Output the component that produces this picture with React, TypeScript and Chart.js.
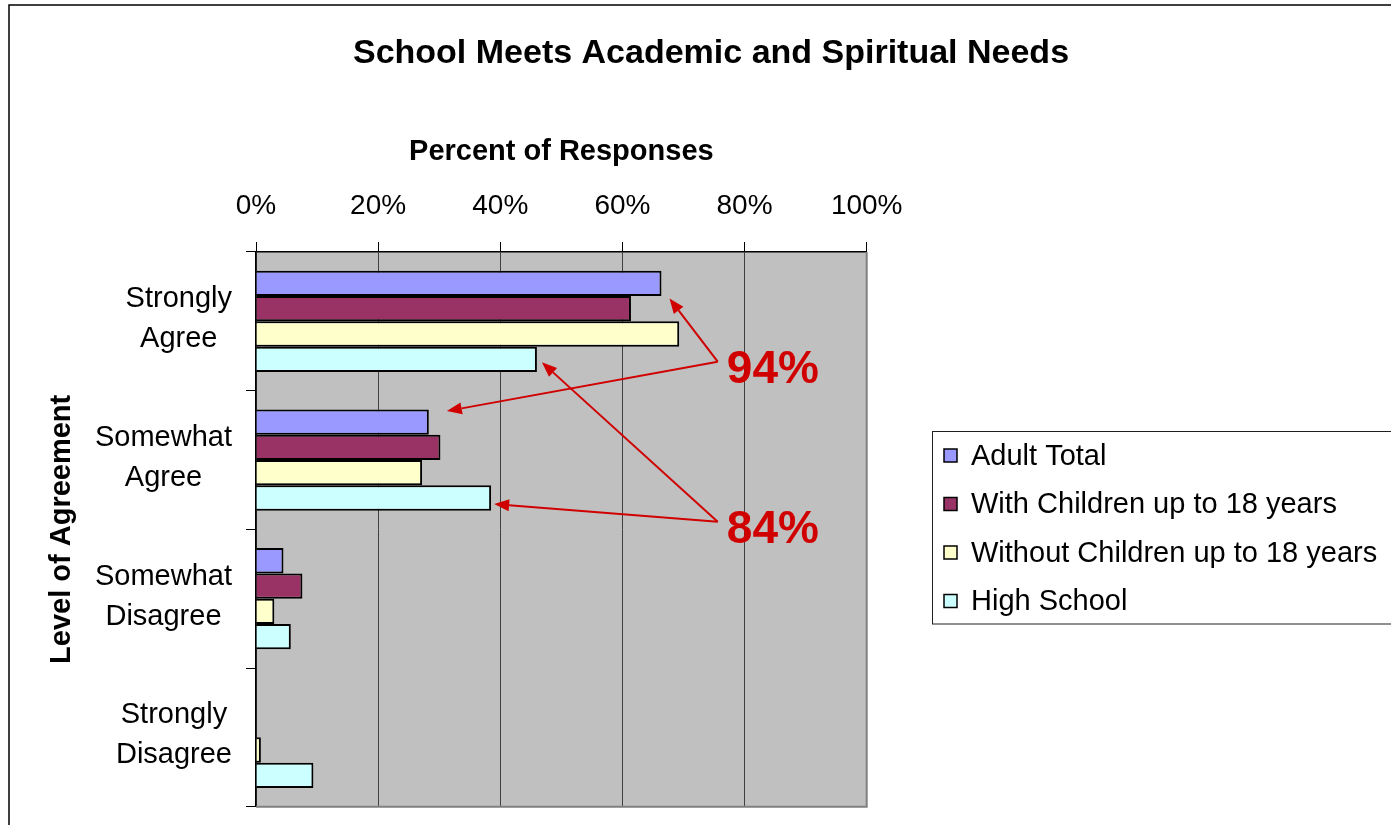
import React, { useEffect, useRef } from 'react';
import { Chart, registerables } from 'chart.js';

Chart.register(...registerables);

// ---- data ----
const CATEGORIES = ['Strongly Agree', 'Somewhat Agree', 'Somewhat Disagree', 'Strongly Disagree'];
const CATEGORY_LINES = [
  ['Strongly', 'Agree'],
  ['Somewhat', 'Agree'],
  ['Somewhat', 'Disagree'],
  ['Strongly', 'Disagree'],
];
const SERIES_NAMES = [
  'Adult Total',
  'With Children up to 18 years',
  'Without Children up to 18 years',
  'High School',
];
const ADULT_TOTAL = [66.4, 28.3, 4.5, 0];
const WITH_CHILDREN = [61.4, 30.2, 7.6, 0];
const WITHOUT_CHILDREN = [69.3, 27.2, 3.0, 0.8];
const HIGH_SCHOOL = [46.0, 38.5, 5.7, 9.4];
const X_TICKS = [0, 20, 40, 60, 80, 100];
const SERIES_COLORS = ['#9999FF', '#993366', '#FFFFCC', '#CCFFFF'];
const CHART_TITLE = 'School Meets Academic and Spiritual Needs';

// callouts: junction/text in (percent, category index) units; arrow targets anchored to bars
const CALLOUT_LABELS = ['94%', '84%'];
const CALLOUT_JUNCTIONS = [[75.6, 0.291], [75.6, 1.445]];
const CALLOUT_TEXT_POS = [[77.1, 0.351], [77.1, 1.505]];
const CALLOUT_TARGETS = [
  [{ ds: 0, idx: 0, dx: 8, dy: 15 }, { ds: 0, idx: 1, dx: 18, dy: -11 }],
  [{ ds: 3, idx: 0, dx: 5, dy: 3 }, { ds: 3, idx: 1, dx: 3, dy: 6 }],
];

const FONT = "'Liberation Sans', Arial, sans-serif";
const RED = '#D00000';

const W = 1422;
const H = 825;
const PLOT_TOP = 252;
const PLOT_LEFT = 256;
const PLOT_RIGHT = 866.7;
const PLOT_BOTTOM = 806.7;

function drawArrow(ctx: CanvasRenderingContext2D, x0: number, y0: number, x1: number, y1: number) {
  const ang = Math.atan2(y1 - y0, x1 - x0);
  const len = 15;
  const hw = 6;
  const bx = x1 - Math.cos(ang) * len;
  const by = y1 - Math.sin(ang) * len;
  ctx.beginPath();
  ctx.moveTo(x0, y0);
  ctx.lineTo(bx, by);
  ctx.stroke();
  ctx.beginPath();
  ctx.moveTo(x1, y1);
  ctx.lineTo(bx + Math.sin(ang) * hw, by - Math.cos(ang) * hw);
  ctx.lineTo(bx - Math.sin(ang) * hw, by + Math.cos(ang) * hw);
  ctx.closePath();
  ctx.fill();
}

const decorPlugin = {
  id: 'decor',
  beforeDraw(chart: any) {
    const { ctx, chartArea: a } = chart;
    ctx.save();
    ctx.fillStyle = '#FFFFFF';
    ctx.fillRect(0, 0, chart.width, chart.height);
    ctx.fillStyle = '#C0C0C0';
    ctx.fillRect(a.left, a.top, a.right - a.left, a.bottom - a.top);
    ctx.restore();
  },
  beforeDatasetsDraw(chart: any) {
    const { ctx, chartArea: a } = chart;
    ctx.save();
    ctx.strokeStyle = '#808080';
    ctx.lineWidth = 2;
    ctx.beginPath();
    ctx.moveTo(a.left, a.bottom);
    ctx.lineTo(a.right, a.bottom);
    ctx.lineTo(a.right, a.top);
    ctx.stroke();
    ctx.restore();
  },
  afterDraw(chart: any) {
    const { ctx } = chart;
    const xs = chart.scales.x;
    const ys = chart.scales.y;
    ctx.save();

    // chart title, centred on the full figure
    ctx.fillStyle = '#000';
    ctx.font = `bold 34px ${FONT}`;
    ctx.textAlign = 'center';
    ctx.textBaseline = 'middle';
    ctx.fillText(CHART_TITLE, W / 2, 54);

    // category labels (centred lines, block right-aligned)
    ctx.font = `29px ${FONT}`;
    CATEGORY_LINES.forEach((lines, i) => {
      const cy = ys.getPixelForValue(i) - 2;
      const w = Math.max(...lines.map((l) => ctx.measureText(l).width));
      const cx = ys.right - 24 - w / 2;
      lines.forEach((l, j) => {
        ctx.fillText(l, cx, cy + (j - (lines.length - 1) / 2) * 40);
      });
    });

    // callouts
    ctx.strokeStyle = RED;
    ctx.fillStyle = RED;
    ctx.lineWidth = 2;
    CALLOUT_LABELS.forEach((label, k) => {
      const jx = xs.getPixelForValue(CALLOUT_JUNCTIONS[k][0]);
      const jy = ys.getPixelForValue(CALLOUT_JUNCTIONS[k][1]);
      CALLOUT_TARGETS[k].forEach((t) => {
        const bar = chart.getDatasetMeta(t.ds).data[t.idx];
        drawArrow(ctx, jx, jy, bar.x + t.dx, bar.y + t.dy);
      });
      ctx.font = `bold 46px ${FONT}`;
      ctx.textAlign = 'left';
      ctx.textBaseline = 'middle';
      ctx.fillText(label, xs.getPixelForValue(CALLOUT_TEXT_POS[k][0]), ys.getPixelForValue(CALLOUT_TEXT_POS[k][1]));
    });

    // legend
    const lx = 932.5;
    const ly = 431.5;
    const lh = 192.5;
    ctx.strokeStyle = '#202020';
    ctx.lineWidth = 1;
    ctx.fillStyle = '#FFFFFF';
    ctx.fillRect(lx, ly, 600, lh);
    ctx.strokeRect(lx, ly, 600, lh);
    ctx.font = `29px ${FONT}`;
    ctx.textAlign = 'left';
    ctx.textBaseline = 'middle';
    chart.data.datasets.forEach((ds: any, i: number) => {
      const cy = ly + 24 + i * 48.5;
      ctx.fillStyle = ds.backgroundColor;
      ctx.fillRect(944, cy - 6.5, 13, 13);
      ctx.strokeStyle = '#000';
      ctx.lineWidth = 1.5;
      ctx.strokeRect(944, cy - 6.5, 13, 13);
      ctx.fillStyle = '#000';
      ctx.fillText(ds.label, 971, cy + 1);
    });

    // outer frame
    ctx.strokeStyle = '#000';
    ctx.lineWidth = 1.5;
    ctx.strokeRect(9, 5, 3000, 3000);
    ctx.restore();
  },
};

export default function App() {
  const ref = useRef<HTMLCanvasElement | null>(null);
  useEffect(() => {
    if (!ref.current) return;
    const series = [ADULT_TOTAL, WITH_CHILDREN, WITHOUT_CHILDREN, HIGH_SCHOOL];
    const chart = new Chart(ref.current, {
      type: 'bar',
      data: {
        labels: CATEGORIES,
        datasets: series.map((vals, i) => ({
          label: SERIES_NAMES[i],
          data: vals,
          backgroundColor: SERIES_COLORS[i],
          borderColor: '#000000',
          borderWidth: 2,
          borderSkipped: 'start',
          barPercentage: 1,
          categoryPercentage: 0.73,
        })),
      },
      options: {
        indexAxis: 'y',
        responsive: false,
        animation: false,
        devicePixelRatio: 1,
        layout: {
          padding: { left: 0, top: 0, right: W - PLOT_RIGHT, bottom: H - PLOT_BOTTOM },
        },
        plugins: {
          legend: { display: false },
          tooltip: { enabled: false },
          title: { display: false },
        },
        scales: {
          x: {
            type: 'linear',
            position: 'top',
            min: 0,
            max: 100,
            afterBuildTicks: (s: any) => {
              s.ticks = X_TICKS.map((v) => ({ value: v }));
            },
            afterFit: (s: any) => {
              s.height = PLOT_TOP;
            },
            ticks: {
              color: '#000',
              font: { family: FONT, size: 28 },
              padding: 19,
              maxRotation: 0,
              callback: (v: any) => `${v}%`,
            },
            grid: {
              color: '#404040',
              lineWidth: 1,
              drawTicks: true,
              tickLength: 10,
              tickColor: '#000',
            },
            border: { color: '#000', width: 1.5 },
            title: {
              display: true,
              text: 'Percent of Responses',
              color: '#000',
              font: { family: FONT, size: 29, weight: 'bold' },
              padding: { top: 152 - 17.4, bottom: 0 },
            },
          },
          y: {
            type: 'category',
            position: 'left',
            offset: true,
            afterFit: (s: any) => {
              s.width = PLOT_LEFT;
            },
            ticks: { display: false },
            grid: {
              drawOnChartArea: false,
              drawTicks: true,
              tickLength: 10,
              tickColor: '#000',
              offset: true,
            },
            border: { color: '#000', width: 1.5 },
            title: {
              display: true,
              text: 'Level of Agreement',
              color: '#000',
              font: { family: FONT, size: 29, weight: 'bold' },
              padding: { top: 45, bottom: 0 },
            },
          },
        },
      },
      plugins: [decorPlugin],
    } as any);
    return () => chart.destroy();
  }, []);

  return (
    <div
      style={{
        position: 'fixed',
        left: 0,
        top: 0,
        width: 1391,
        height: 825,
        overflow: 'hidden',
        background: '#fff',
      }}
    >
      <canvas
        ref={ref}
        width={W}
        height={H}
        style={{ position: 'absolute', left: 0, top: 0, display: 'block', width: W, height: H }}
      />
    </div>
  );
}
